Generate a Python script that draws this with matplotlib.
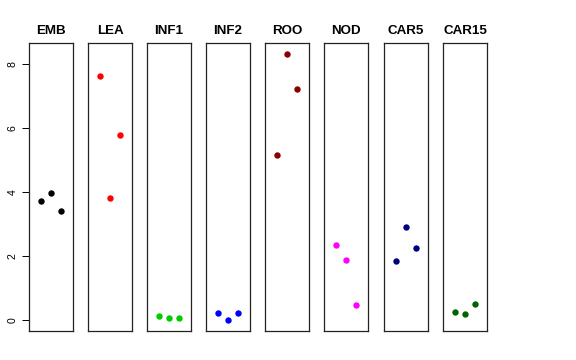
import matplotlib
matplotlib.use("Agg")
import matplotlib.pyplot as plt

plt.rcParams['font.family'] = ['Liberation Sans', 'DejaVu Sans']

categories = ["EMB", "LEA", "INF1", "INF2", "ROO", "NOD", "CAR5", "CAR15"]
colors = ["#000000", "#FF0000", "#00CD00", "#0000FF", "#8B0000", "#FF00FF", "#000080", "#006400"]
values = {
    "EMB":   [3.73, 3.96, 3.40],
    "LEA":   [7.64, 3.81, 5.77],
    "INF1":  [0.14, 0.08, 0.08],
    "INF2":  [0.21, 0.01, 0.22],
    "ROO":   [5.15, 8.33, 7.22],
    "NOD":   [2.34, 1.89, 0.46],
    "CAR5":  [1.85, 2.92, 2.25],
    "CAR15": [0.24, 0.19, 0.50],
}
yticks = [0, 2, 4, 6, 8]
replicates = [1, 2, 3]

W, H = 576, 360
fig = plt.figure(figsize=(W / 100, H / 100), dpi=100)
lefts = [29, 88, 147, 206, 265, 324, 384, 443]
pw = 44
top, bottom = 43, 331

for i, (cat, col) in enumerate(zip(categories, colors)):
    ax = fig.add_axes([lefts[i] / W, (H - bottom) / H, pw / W, (bottom - top) / H])
    ax.plot(replicates, values[cat], 'o', color=col, markersize=4.6, markeredgewidth=0)
    ax.set_xlim(-0.16, 4.16)
    ax.set_ylim(-0.34, 8.66)
    ax.set_xticks([])
    for s in ax.spines.values():
        s.set_linewidth(0.9)
        s.set_color("#222222")
    ax.set_title(cat, fontsize=9.6, fontweight='bold', pad=6.5)
    if i == 0:
        ax.set_yticks(yticks)
        ax.set_yticklabels([str(t) for t in yticks], rotation=90, va='center', fontsize=7.6)
        ax.tick_params(axis='y', length=5, width=0.7, pad=3, colors="#000000", labelcolor="#000000")
    else:
        ax.set_yticks([])

fig.savefig("out.png", dpi=100)
